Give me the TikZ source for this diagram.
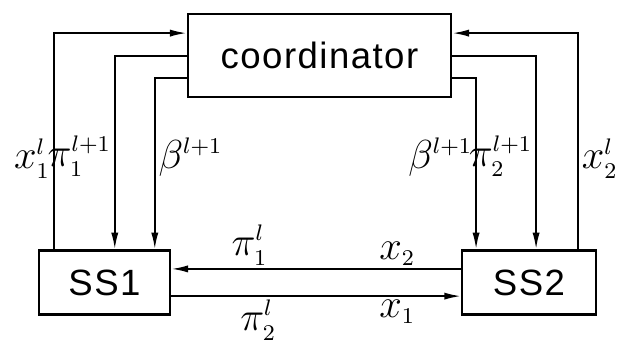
\documentclass[tikz,border=0pt]{standalone}
\usepackage{amsmath}
\usepackage{fontspec}
\setmainfont{Liberation Sans}[LetterSpace=4.0]
\DeclareMathSizes{14.4}{14.4}{8.5}{6}
\usepackage{tikz}
\usetikzlibrary{arrows.meta, positioning, calc}
\tikzset{
    block/.style   ={rectangle, draw=black, line width=0.8pt, inner sep=0pt, text centered},
    sig/.style     ={line width=0.7pt},
    sigarrow/.style={sig, -{Latex[length=0.21cm, width=0.09cm]}},
    lbl/.style     ={inner sep=1pt, font=\fontsize{14.4}{17}\selectfont},
}

\begin{document}
\begin{tikzpicture}[x=0.0125cm, y=-0.0125cm, font=\fontsize{13}{15}\selectfont]
        \useasboundingbox (0,0) rectangle (620,351);
        % blocks
        \node[block, minimum width=3.29cm, minimum height=1.04cm] (coord) at (319.5,55.5) {coordinator};
        \node[block, minimum width=1.64cm, minimum height=0.8cm] (ss1) at (104.5,282.5) {SS1};
        \node[block, minimum width=1.67cm, minimum height=0.8cm] (ss2) at (529,282.5) {SS2};
        % coordinator <-> SS1
        \draw[sigarrow]([xshift=0.2cm]ss1.north west) |- node[lbl, left, pos=0.21]{$x_1^l$} ([yshift=0.28cm]coord.west);
        \draw[sigarrow](coord.west) -| node[lbl, left, pos=0.76]{$\pi_1^{l+1}$} ([xshift=0.9625cm]ss1.north west);
        \draw[sigarrow]([yshift=-0.28cm]coord.west) -| node[lbl, right, pos=0.73]{$\beta^{l+1}$} ([xshift=1.4625cm]ss1.north west);
        % coordinator <-> SS2
        \draw[sigarrow]([xshift=1.4625cm]ss2.north west) |- node[lbl, right, pos=0.21]{$x_2^l$} ([yshift=0.28cm]coord.east);
        \draw[sigarrow](coord.east) -| node[lbl, left, pos=0.76]{$\pi_2^{l+1}$} ([xshift=0.9375cm]ss2.north west);
        \draw[sigarrow]([yshift=-0.28cm]coord.east) -| node[lbl, left, pos=0.73]{$\beta^{l+1}$} ([xshift=0.1875cm]ss2.north west);
        % SS1 <-> SS2
        \draw[sigarrow]([yshift=0.17cm]ss2.west) -- node[lbl, above, pos=0.22]{$x_2$} node[lbl, above, pos=0.73]{$\pi_1^l$} ([yshift=0.17cm]ss1.east);
        \draw[sigarrow]([yshift=-0.17cm]ss1.east) -- node[lbl, below, pos=0.30]{$\pi_2^l$} node[lbl, below, pos=0.78]{$x_1$} ([yshift=-0.17cm]ss2.west);
    \end{tikzpicture}
\end{document}
